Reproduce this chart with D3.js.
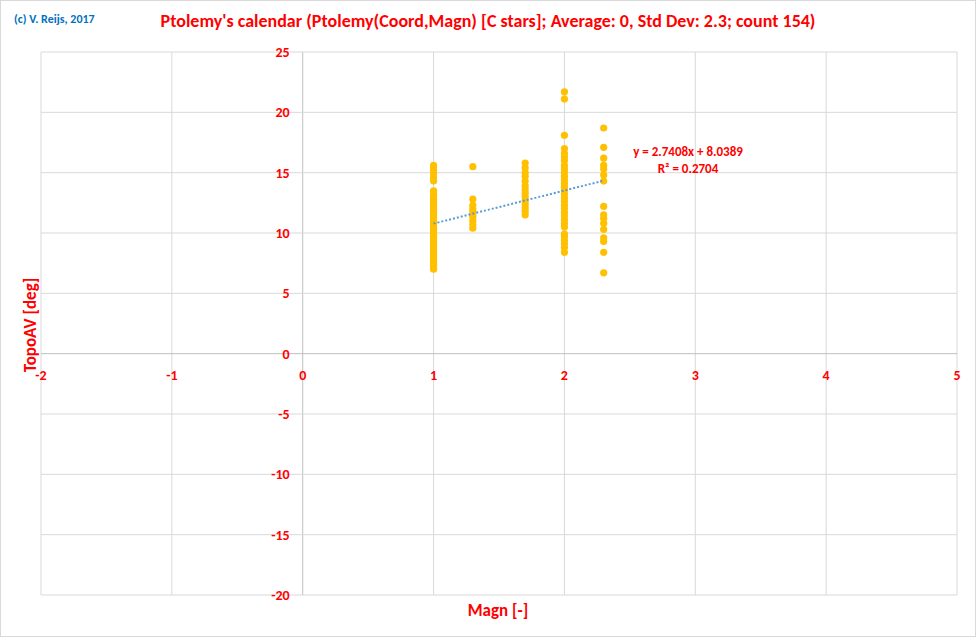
<!DOCTYPE html>
<html>
<head>
<meta charset="utf-8">
<script src="https://cdn.jsdelivr.net/npm/d3@7"></script>
<style>body{margin:0;background:#fff;font-family:Calibri,Carlito,"Open Sans",sans-serif;}</style>
</head>
<body>
<script>
var w = 976, h = 637;
var xTicks = [-2, -1, 0, 1, 2, 3, 4, 5];
var yTicks = [-20, -15, -10, -5, 0, 5, 10, 15, 20, 25];
var magn1 = [7.0, 7.2, 7.4, 7.6, 7.8, 8.0, 8.2, 8.4, 8.6, 8.8, 9.0, 9.2, 9.4, 9.6, 9.8, 10.0, 10.2, 10.4, 10.6, 10.8, 11.0, 11.2, 11.4, 11.6, 11.8, 12.0, 12.2, 12.4, 12.6, 12.8, 13.0, 13.2, 13.5, 14.3, 14.6, 14.9, 15.2, 15.4, 15.6];
var magn13 = [10.4, 10.7, 11.0, 11.3, 11.5, 11.8, 12.0, 12.3, 12.8, 15.5];
var magn17 = [11.5, 11.8, 12.1, 12.4, 12.7, 13.0, 13.3, 13.6, 13.9, 14.3, 14.7, 15.0, 15.4, 15.8];
var magn2 = [8.4, 8.8, 9.1, 9.4, 9.7, 9.9, 10.5, 10.8, 11.1, 11.4, 11.7, 12.0, 12.3, 12.6, 12.9, 13.2, 13.5, 13.8, 14.1, 14.4, 14.7, 15.0, 15.3, 15.6, 16.0, 16.3, 16.6, 17.0, 18.1, 21.1, 21.7];
var magn23 = [6.7, 8.4, 9.3, 9.6, 10.3, 10.8, 11.2, 11.5, 12.2, 14.3, 14.8, 15.3, 15.6, 16.2, 17.1, 18.7];
var slope = 2.7408, intercept = 8.0389;

var points = [];
[[1, magn1], [1.3, magn13], [1.7, magn17], [2, magn2], [2.3, magn23]].forEach(function(c){
    c[1].forEach(function(v){ points.push({x: c[0], y: v}); });
});

var xScale = d3.scaleLinear().domain([-2, 5]).range([41, 957]);
var yScale = d3.scaleLinear().domain([-20, 25]).range([595, 52]);

var svg = d3.select("body").append("svg").attr("width", w).attr("height", h);
svg.append("rect").attr("x", 0.5).attr("y", 0.5).attr("width", w - 1).attr("height", h - 1)
    .attr("fill", "#fff").attr("stroke", "#d9d9d9");

// grid
svg.selectAll(".gx").data(xTicks).enter().append("line")
    .attr("x1", d => xScale(d)).attr("x2", d => xScale(d))
    .attr("y1", yScale(25)).attr("y2", yScale(-20))
    .attr("stroke", d => d === 0 ? "#bfbfbf" : "#d9d9d9");
svg.selectAll(".gy").data(yTicks).enter().append("line")
    .attr("x1", xScale(-2)).attr("x2", xScale(5))
    .attr("y1", d => yScale(d)).attr("y2", d => yScale(d))
    .attr("stroke", d => d === 0 ? "#bfbfbf" : "#d9d9d9");

// tick labels
svg.selectAll(".ty").data(yTicks).enter().append("text")
    .attr("x", xScale(0) - 13).attr("y", d => yScale(d) + 5)
    .attr("text-anchor", "end").attr("fill", "#ff0000").attr("font-weight", "bold")
    .attr("font-size", 14).text(d => d);
svg.selectAll(".tx").data(xTicks).enter().append("text")
    .attr("x", d => xScale(d)).attr("y", yScale(0) + 26)
    .attr("text-anchor", "middle").attr("fill", "#ff0000").attr("font-weight", "bold")
    .attr("font-size", 14).text(d => d);

// points
svg.selectAll("circle").data(points).enter().append("circle")
    .attr("cx", d => xScale(d.x)).attr("cy", d => yScale(d.y))
    .attr("r", 3.6).attr("fill", "#ffc000");

// trendline
svg.append("line")
    .attr("x1", xScale(1)).attr("y1", yScale(slope * 1 + intercept))
    .attr("x2", xScale(2.3)).attr("y2", yScale(slope * 2.3 + intercept))
    .attr("stroke", "#5b9bd5").attr("stroke-width", 2).attr("stroke-dasharray", "2,2");

svg.append("text").attr("x", 688).attr("y", 156).attr("text-anchor", "middle")
    .attr("fill", "#ff0000").attr("font-weight", "bold").attr("font-size", 13)
    .text("y = 2.7408x + 8.0389");
svg.append("text").attr("x", 688).attr("y", 173).attr("text-anchor", "middle")
    .attr("fill", "#ff0000").attr("font-weight", "bold").attr("font-size", 13)
    .text("R² = 0.2704");

// titles
svg.append("text").attr("x", 488).attr("y", 27).attr("text-anchor", "middle")
    .attr("fill", "#ff0000").attr("font-weight", "bold").attr("font-size", 18)
    .text("Ptolemy's calendar (Ptolemy(Coord,Magn) [C stars]; Average: 0, Std Dev: 2.3; count 154)");
svg.append("text").attr("x", 14).attr("y", 23)
    .attr("fill", "#0070c0").attr("font-weight", "bold").attr("font-size", 12)
    .text("(c) V. Reijs, 2017");
svg.append("text").attr("x", 498).attr("y", 616).attr("text-anchor", "middle")
    .attr("fill", "#ff0000").attr("font-weight", "bold").attr("font-size", 17)
    .text("Magn [-]");
svg.append("text").attr("transform", "translate(36,325) rotate(-90)").attr("text-anchor", "middle")
    .attr("fill", "#ff0000").attr("font-weight", "bold").attr("font-size", 17)
    .text("TopoAV [deg]");
</script>
</body>
</html>
